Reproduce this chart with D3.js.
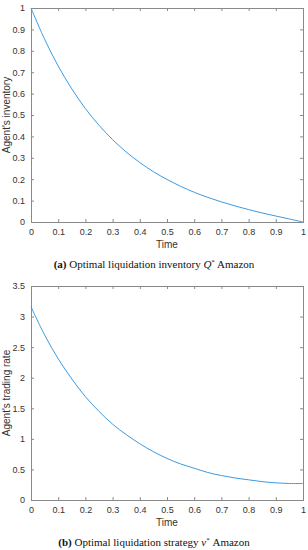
<!DOCTYPE html>
<html><head><meta charset="utf-8">
<script src="https://cdn.jsdelivr.net/npm/d3@7"></script>
<style>body{margin:0;background:#fff}svg{display:block}</style>
</head><body>
<svg id="c" width="308" height="550"></svg>
<script>
const timeValues = [0,0.05,0.1,0.15,0.2,0.25,0.3,0.35,0.4,0.45,0.5,0.55,0.6,0.65,0.7,0.75,0.8,0.85,0.9,0.95,1];
const inventoryValues = [1,0.854,0.729,0.622,0.530,0.452,0.385,0.327,0.278,0.235,0.199,0.167,0.139,0.115,0.094,0.075,0.058,0.042,0.028,0.014,0];
const rateValues = [3.16,2.70,2.31,1.98,1.69,1.45,1.24,1.07,0.92,0.79,0.68,0.59,0.52,0.45,0.40,0.36,0.33,0.30,0.28,0.27,0.27];
const xTicks = [0,0.1,0.2,0.3,0.4,0.5,0.6,0.7,0.8,0.9,1];
const yTicksTop = [0,0.1,0.2,0.3,0.4,0.5,0.6,0.7,0.8,0.9,1];
const yTicksBottom = [0,0.5,1,1.5,2,2.5,3,3.5];

const svg = d3.select("#c");
const axisColor = "#8a8a8a", textColor = "#333", lineColor = "#3c9ae0";
const font = "'Liberation Sans', Arial, sans-serif";

function panel(top, yDomain, yTicks, values, ylabel, caption) {
  const L = 31, R = 303, T = top, B = top + 214;
  const x = d3.scaleLinear().domain([0,1]).range([L,R]);
  const y = d3.scaleLinear().domain(yDomain).range([B,T]);
  const g = svg.append("g");
  const fmt = d => String(d);
  // axes with inward ticks
  const ax = g.append("g").attr("transform",`translate(0,${B})`)
    .call(d3.axisBottom(x).tickValues(xTicks).tickSize(-3).tickPadding(7).tickFormat(fmt));
  const ay = g.append("g").attr("transform",`translate(${L},0)`)
    .call(d3.axisLeft(y).tickValues(yTicks).tickSize(-3).tickPadding(6).tickFormat(fmt));
  const at = g.append("g").attr("transform",`translate(0,${T})`)
    .call(d3.axisTop(x).tickValues(xTicks).tickSize(-3).tickFormat(""));
  const ar = g.append("g").attr("transform",`translate(${R},0)`)
    .call(d3.axisRight(y).tickValues(yTicks).tickSize(-3).tickFormat(""));
  [ax,ay,at,ar].forEach(a => {
    a.selectAll("path.domain").attr("stroke",axisColor).attr("stroke-width",1);
    a.selectAll(".tick line").attr("stroke",axisColor);
    a.selectAll("text").attr("fill",textColor).style("font-family",font).style("font-size","9px");
  });
  const line = d3.line().x((d,i)=>x(timeValues[i])).y(d=>y(d)).curve(d3.curveCatmullRom.alpha(0.5));
  g.append("path").datum(values).attr("d",line).attr("fill","none")
    .attr("stroke",lineColor).attr("stroke-width",1);
  g.append("text").attr("x",(L+R)/2).attr("y",B+26).attr("text-anchor","middle")
    .attr("fill",textColor).style("font-family",font).style("font-size","10px").text("Time");
  g.append("text").attr("transform",`translate(10,${(T+B)/2}) rotate(-90)`).attr("text-anchor","middle")
    .attr("fill",textColor).style("font-family",font).style("font-size","10px").text(ylabel);
  const cap = g.append("text").attr("x",154).attr("y",B+46).attr("text-anchor","middle")
    .attr("fill","#111").style("font-family","'Liberation Serif','DejaVu Serif',serif").style("font-size","11px");
  cap.append("tspan").attr("font-weight","bold").text(caption[0]);
  cap.append("tspan").text(" " + caption[1] + " ");
  cap.append("tspan").attr("font-style","italic").text(caption[2]);
  cap.append("tspan").attr("font-size","7px").attr("dy","-4").text("*");
  cap.append("tspan").attr("dy","4").text(" " + caption[3]);
}

panel(8, [0,1], yTicksTop, inventoryValues, "Agent's inventory", ["(a)","Optimal liquidation inventory","Q","Amazon"]);
panel(286, [0,3.5], yTicksBottom, rateValues, "Agent's trading rate", ["(b)","Optimal liquidation strategy","ν","Amazon"]);
</script>
</body></html>
